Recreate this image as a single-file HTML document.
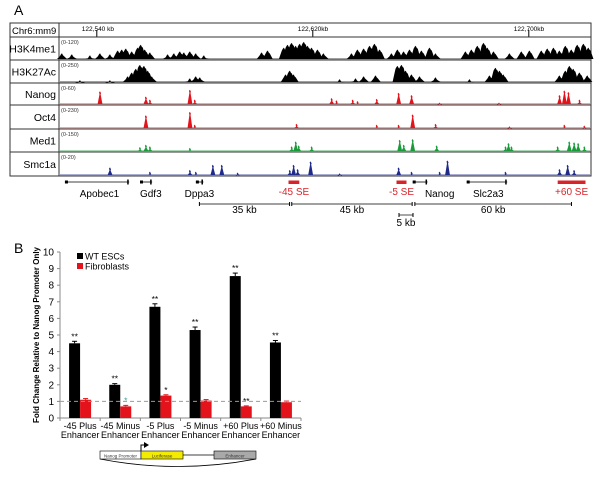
<!DOCTYPE html>
<html><head><meta charset="utf-8"><style>
body{margin:0;background:#fff;font-family:"Liberation Sans",sans-serif}
svg text{font-family:"Liberation Sans",sans-serif}
</style></head><body>
<svg id="fig" width="600" height="478" viewBox="0 0 600 478" xmlns="http://www.w3.org/2000/svg">
<text x="14" y="15" font-size="14">A</text>
<g id="browser">
<rect x="10" y="23" width="581" height="153" fill="none" stroke="#333" stroke-width="1"/>
<rect x="59" y="23" width="532" height="14" fill="#fff" stroke="#333"/>
<text x="12" y="34" font-size="9.5">Chr6:mm9</text>
</g>
<g id="genes"></g>
<text x="14" y="253" font-size="14">B</text>
<g id="chart"></g>
</svg>
<script>
// ---------- genome tracks ----------
const regionStartKb = 122526;
const rulerTicksKb = [122540, 122620, 122700];
const rulerTickLabels = ["122,540 kb", "122,620kb", "122,700kb"];
const trackNames = ["H3K4me1", "H3K27Ac", "Nanog", "Oct4", "Med1", "Smc1a"];
const trackRanges = ["(0-120)", "(0-250)", "(0-60)", "(0-230)", "(0-150)", "(0-20)"];
const trackColors = ["#000", "#000", "#e3121b", "#e3121b", "#1a9a3a", "#1f2a8a"];
const h3k4me1 = [[1.1,.3],[4.8,.25],[11.5,.2],[15.2,.3],[18.9,.25],[21.8,.45],[23.3,.5],[24.8,.55],[27,.4],[29.2,.6],[30.3,.75],[31.8,.5],[33.7,.35],[40.3,.25],[42.6,.3],[44.8,.4],[46.3,.35],[48.5,.4],[50.7,.3],[53.7,.2],[75.1,.35],[77.3,.45],[83.3,.6],[84.7,.75],[86.2,.85],[87.7,.7],[89.2,.8],[90.7,.9],[92.1,.7],[93.6,.6],[95.8,.5],[98,.3],[108.4,.3],[110.6,.5],[112.9,.55],[115.1,.7],[116.9,.8],[118.8,.5],[123.2,.3],[125.4,.5],[127.7,.4],[129.9,.5],[132.1,.7],[134.3,.45],[137.3,.6],[139.5,.3],[150.6,.4],[152.8,.5],[155,.7],[157.3,.85],[158.7,.6],[161,.4],[166.9,.3],[171.3,.4],[174.3,.45],[178.7,.45],[180.9,.55],[183.2,.6],[185.4,.45],[187.6,.7],[189.8,.5],[192,.75],[194.3,.8],[196.1,.6]];
const h3k27ac = [[7.8,.1],[18.9,.1],[25.5,.3],[27,.5],[28.5,.7],[30,.9],[31.5,.85],[32.9,.6],[34.4,.3],[48.5,.2],[50.7,.3],[52.2,.25],[84,.4],[85.5,.6],[86.9,.4],[104,.15],[109.9,.2],[112.9,.3],[117.3,.35],[125.4,.85],[126.9,.9],[128.4,.6],[130.6,.4],[133.6,.3],[139.5,.25],[152.1,.15],[159.5,.35],[161.7,.75],[163.2,.6],[164.6,.4],[185.4,.35],[187.6,.6],[189.1,.85],[190.5,.7],[192.8,.5],[195.7,.35]];
const nanogTrack = [[15.2,.85],[32.2,.5],[33.7,.3],[48.5,.95],[50.3,.3],[101,.4],[102.8,.25],[108.8,.3],[110.6,.2],[117.7,.35],[125.8,.75],[130.6,.6],[141,.1],[163,.1],[185.4,.6],[187.2,.9],[188.7,.8],[192.8,.3]];
const oct4Track = [[32.2,.75],[48.5,.95],[50.3,.2],[88,.25],[117.7,.2],[125.8,.2],[131,.8],[139.5,.25],[166.9,.1],[187.2,.2],[194.6,.15]];
const med1Track = [[30,.25],[32.2,.4],[33.7,.3],[48.5,.2],[86.2,.3],[87.7,.6],[88.8,.35],[93.6,.3],[126.2,.7],[127.7,.4],[131,.75],[139.9,.35],[165.4,.3],[166.5,.5],[167.6,.3],[184.7,.3],[189,.6],[190.8,.55],[192.3,.5],[194.6,.3]];
const smc1aTrack = [[18.9,.45],[33.7,.2],[48.5,.3],[50.7,.2],[57,.6],[60.3,.6],[66.2,.15],[85.5,.3],[86.9,.6],[88.4,.35],[93.2,.8],[104,.1],[125.8,.45],[130.6,.2],[141,.2],[143.9,.85],[165.4,.2],[185.4,.35],[188.4,.6],[190.8,.3]];
const trackData = [h3k4me1, h3k27ac, nanogTrack, oct4Track, med1Track, smc1aTrack];

const NS = "http://www.w3.org/2000/svg";
function mk(tag, attrs, parent){const e=document.createElementNS(NS,tag);for(const k in attrs)e.setAttribute(k,attrs[k]);parent.appendChild(e);return e;}
const svg = document.getElementById("fig");
const browser = document.getElementById("browser");
const gx = kb => 59 + (kb - regionStartKb) * 2.7;
const gxo = off => 59 + off * 2.7;

rulerTicksKb.forEach((kb,i)=>{
  const t = mk("line",{x1:gx(kb),x2:gx(kb),y1:30,y2:37,stroke:"#000"},browser);
  
  
  const l = mk("text",{x:gx(kb)-15,y:31,"font-size":"6.5"},browser);
  l.textContent = rulerTickLabels[i];
  
  
});
const rowTops = [37,60,83,105,129,152,176];
trackNames.forEach((name,i)=>{
  const y0=rowTops[i], y1=rowTops[i+1], h=y1-y0;
  const g = mk("g",{},browser);
  
  
  mk("rect",{x:10,y:y0,width:49,height:h,fill:"#fff",stroke:"#333"},g);
  const lab = mk("text",{x:56,y:y0+h/2+4,"font-size":"10.5","text-anchor":"end"},g);
  lab.textContent = name;
  
  
  mk("line",{x1:59,x2:591,y1:y0,y2:y0,stroke:"#333"},g);
  const rng = mk("text",{x:61,y:y0+7,"font-size":"5.5",fill:"#333"},g);
  rng.textContent = trackRanges[i];
  
  
  mk("line",{x1:60,x2:590,y1:y1-1.2,y2:y1-1.2,stroke:trackColors[i],"stroke-width":"0.8",opacity:"0.6"},g);
  const wide = i<2 ? 3.5 : 0.9;
  const usable = i<2 ? h-4 : h-7;
  trackData[i].forEach(([off,v])=>{
    const x=gxo(off), top=y1-1-v*usable;
    const p = mk("polygon",{points:`${x-wide-1.5},${y1-1} ${x-wide*0.6},${top+3} ${x-1},${top+1} ${x},${top} ${x+1},${top+2} ${x+wide*0.6},${top+3} ${x+wide+1.5},${y1-1}`,fill:trackColors[i]},g);
    
    
  });
});

// genes & SE
const genesG = document.getElementById("genes");
const geneNames = ["Apobec1","Gdf3","Dppa3","Nanog","Slc2a3"];
const geneStartKb = [2.2,30,50.7,131,151];
const geneEndKb = [26,34.5,53.5,136.5,166];
const geneLabelKb = [15,34,52,141,159];
geneNames.forEach((n,i)=>{
  const g=mk("g",{},genesG);
  
  
  mk("line",{x1:gxo(geneStartKb[i]),x2:gxo(geneEndKb[i]),y1:182,y2:182,stroke:"#000","stroke-width":"0.8"},g);
  mk("rect",{x:gxo(geneStartKb[i]),y:180.5,width:3,height:3,fill:"#000"},g);
  mk("rect",{x:gxo(geneEndKb[i])-2,y:179.5,width:1.5,height:5,fill:"#000"},g);
  const t=mk("text",{x:gxo(geneLabelKb[i]),y:197,"font-size":"10","text-anchor":"middle"},g);
  t.textContent=n;
});
const seNames = ["-45 SE","-5 SE","+60 SE"];
const seStartKb = [85,125,184.7];
const seEndKb = [89,128.7,195];
seNames.forEach((n,i)=>{
  const g=mk("g",{},genesG);
  
  
  mk("rect",{x:gxo(seStartKb[i]),y:180.5,width:gxo(seEndKb[i])-gxo(seStartKb[i]),height:3.5,fill:"#d9232a"},g);
  const cx=(gxo(seStartKb[i])+gxo(seEndKb[i]))/2;
  const t=mk("text",{x:cx,y:195,"font-size":"10","text-anchor":"middle",fill:"#d9232a"},g);
  t.textContent=n;
});
const distLabels = ["35 kb","45 kb","60 kb"];
const distStartKb = [52,86.2,131.8];
const distEndKb = [85.4,130.8,189.8];
distLabels.forEach((n,i)=>{
  const g=mk("g",{},genesG);
  
  
  const a=gxo(distStartKb[i]), b=gxo(distEndKb[i]);
  mk("line",{x1:a,x2:b,y1:204,y2:204,stroke:"#000","stroke-width":"0.7"},g);
  mk("line",{x1:a,x2:a,y1:202,y2:206,stroke:"#000"},g);
  mk("line",{x1:b,x2:b,y1:202,y2:206,stroke:"#000"},g);
  const t=mk("text",{x:(a+b)/2,y:213,"font-size":"10","text-anchor":"middle"},g);
  t.textContent=n;
});
{
  const g=mk("g",{},genesG);
  
  
  mk("line",{x1:399,x2:413,y1:215,y2:215,stroke:"#000","stroke-width":"0.7"},g);
  mk("line",{x1:399,x2:399,y1:213,y2:217,stroke:"#000"},g);
  mk("line",{x1:413,x2:413,y1:213,y2:217,stroke:"#000"},g);
  const t=mk("text",{x:406,y:226,"font-size":"10","text-anchor":"middle"},g);
  t.textContent="5 kb";
}

// ---------- bar chart ----------
const categories = [["-45 Plus","Enhancer"],["-45 Minus","Enhancer"],["-5 Plus","Enhancer"],["-5 Minus","Enhancer"],["+60 Plus","Enhancer"],["+60 Minus","Enhancer"]];
const wtValues = [4.5, 2.0, 6.7, 5.3, 8.55, 4.55];
const wtErrors = [0.12, 0.07, 0.18, 0.18, 0.18, 0.12];
const fibValues = [1.1, 0.7, 1.35, 1.05, 0.7, 0.95];
const fibErrors = [0.07, 0.06, 0.05, 0.06, 0.03, 0.07];
const wtSig = ["**","**","**","**","**","**"];
const fibSig = ["","*","*","","**",""];
const yTicks = [0,1,2,3,4,5,6,7,8,9,10];
const seriesNames = ["WT ESCs","Fibroblasts"];

const chart = document.getElementById("chart");
const x0=60, plotW=241, yBase=418, yTop=252;
const yS = v => yBase - v*(yBase-yTop)/10;
const band = plotW/categories.length;
const xC = i => x0 + band*(i+0.5);
mk("line",{x1:x0,x2:x0,y1:yTop,y2:yBase,stroke:"#888"},chart);
mk("line",{x1:x0,x2:x0+plotW,y1:yBase,y2:yBase,stroke:"#888"},chart);
yTicks.forEach(v=>{
  const t=mk("line",{x1:x0-3,x2:x0,y1:yS(v),y2:yS(v),stroke:"#888"},chart);
  
  
  const l=mk("text",{x:x0-6,y:yS(v)+3.5,"font-size":"10","text-anchor":"end"},chart);
  l.textContent=v;
  
  
});
for(let i=0;i<=categories.length;i++){
  mk("line",{x1:x0+band*i,x2:x0+band*i,y1:yBase,y2:yBase+3,stroke:"#888"},chart);
}
const yt=mk("text",{x:0,y:0,"font-size":"8","font-weight":"bold","text-anchor":"middle",transform:`translate(39,${(yTop+yBase)/2}) rotate(-90)`},chart);
yt.textContent="Fold Change Relative to Nanog Promoter Only";


const bw=11;
categories.forEach((c,i)=>{
  const cx=xC(i);
  [[wtValues,wtErrors,wtSig,"#000",cx-bw],[fibValues,fibErrors,fibSig,"#e3121b",cx]].forEach(([vals,errs,sig,col,bx],s)=>{
    const v=vals[i];
    const r=mk("rect",{x:bx,y:yS(v),width:bw,height:yBase-yS(v),fill:col},chart);
    
    
    const ey=yS(v+errs[i]);
    mk("line",{x1:bx+bw/2,x2:bx+bw/2,y1:ey,y2:yS(v),stroke:col},chart);
    mk("line",{x1:bx+bw/2-2.5,x2:bx+bw/2+2.5,y1:ey,y2:ey,stroke:col},chart);
    if(sig[i]){
      const st=mk("text",{x:bx+bw/2,y:ey-2,"font-size":"8.5","text-anchor":"middle",fill: (s===1 && i===1)?"#3a9a9a":"#000"},chart);
      st.textContent=sig[i];
      
      
    }
  });
  c.forEach((ln,k)=>{
    const t=mk("text",{x:cx,y:429+k*9,"font-size":"9","text-anchor":"middle"},chart);
    t.textContent=ln;
    
    
  });
});
const ref=mk("line",{x1:x0,x2:x0+plotW,y1:yS(1),y2:yS(1),stroke:"#999","stroke-dasharray":"4,3"},chart);


seriesNames.forEach((n,i)=>{
  const g=mk("g",{},chart);
  
  
  mk("rect",{x:77,y:253+i*10,width:6,height:6,fill:i?"#e3121b":"#000"},g);
  const t=mk("text",{x:85,y:259.5+i*10,"font-size":"9"},g);
  t.textContent=n;
});
// construct diagram
{
  const g=mk("g",{},chart);
  
  
  mk("path",{d:"M100,459 Q178,474 256,459",fill:"none",stroke:"#000","stroke-width":"0.8"},g);
  mk("rect",{x:100,y:451,width:41,height:8,fill:"#fff",stroke:"#000","stroke-width":"0.6"},g);
  mk("rect",{x:141,y:451,width:42,height:8,fill:"#f4ec00",stroke:"#000","stroke-width":"0.6"},g);
  mk("line",{x1:183,x2:214,y1:455,y2:455,stroke:"#000","stroke-width":"0.8"},g);
  mk("rect",{x:214,y:451,width:42,height:8,fill:"#a9a9a9",stroke:"#000","stroke-width":"0.6"},g);
  mk("path",{d:"M141,451 L141,445 L145,445",fill:"none",stroke:"#000"},g);
  mk("polygon",{points:"144,442 149,445 144,448",fill:"#000"},g);
  [["Nanog Promoter",120.5],["Luciferase",162],["Enhancer",235]].forEach(([s,x])=>{
    const t=mk("text",{x:x,y:457.5,"font-size":"4.5","text-anchor":"middle",fill:"#333"},g);
    t.textContent=s;
  });
}
</script>
</body></html>
